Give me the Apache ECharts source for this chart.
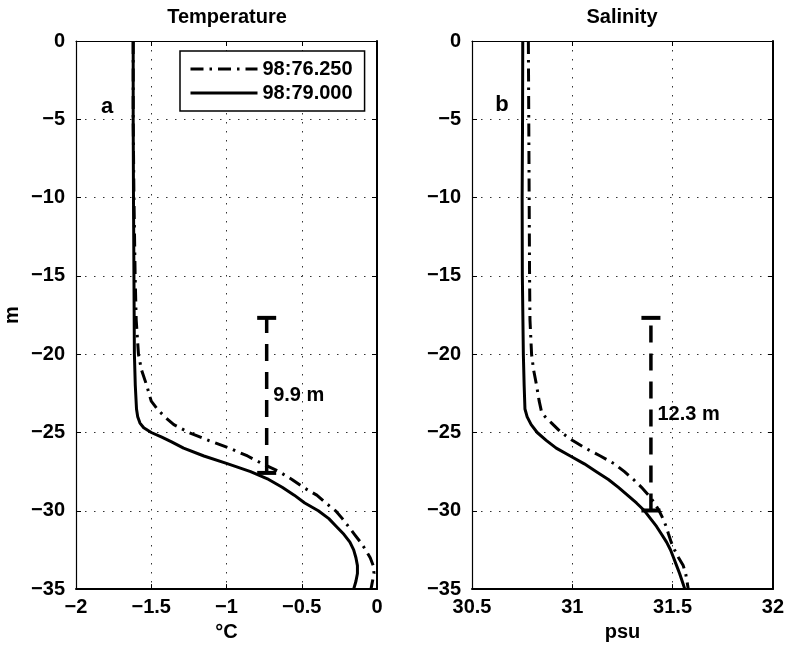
<!DOCTYPE html>
<html>
<head>
<meta charset="utf-8">
<script src="https://cdn.jsdelivr.net/npm/echarts@6/dist/echarts.min.js"></script>
<style>
html,body{margin:0;padding:0;background:#fff;}
#chart{width:787px;height:647px;}
</style>
</head>
<body>
<div id="chart"></div>
<script>
// ---------------- data ----------------
const seriesNames = ['98:76.250', '98:79.000'];
const panelTitles = ['Temperature', 'Salinity'];
const panelLetters = ['a', 'b'];
const xUnits = ['\u00B0C', 'psu'];
const yUnit = 'm';

const tempTicks = [-2, -1.5, -1, -0.5, 0];
const salTicks = [30.5, 31, 31.5, 32];
const depthTicks = [0, -5, -10, -15, -20, -25, -30, -35];

// Temperature, station 98:76.250 (dash-dot)
const t76Depth = [0, -5, -10, -15, -17.8, -20, -21, -22, -23, -23.5, -24, -24.5, -25, -25.5, -26, -26.5, -27, -27.5, -28, -28.5, -29, -29.5, -30, -30.5, -31, -31.5, -32, -32.5, -33, -33.5, -34, -34.5, -35];
const t76Temp  = [-1.62, -1.62, -1.615, -1.607, -1.60, -1.585, -1.565, -1.53, -1.50, -1.46, -1.41, -1.35, -1.25, -1.12, -0.98, -0.86, -0.76, -0.65, -0.565, -0.49, -0.40, -0.34, -0.275, -0.23, -0.19, -0.15, -0.11, -0.075, -0.045, -0.025, -0.02, -0.03, -0.04];

// Temperature, station 98:79.000 (solid)
const t79Depth = [0, -5, -10, -15, -20, -22, -23.5, -24, -24.4, -24.7, -25, -25.3, -25.6, -26, -26.5, -27, -27.5, -28, -28.5, -29, -29.5, -30, -30.5, -31, -31.5, -32, -32.5, -33, -33.5, -34, -34.5, -35];
const t79Temp  = [-1.62, -1.62, -1.618, -1.615, -1.612, -1.606, -1.598, -1.59, -1.575, -1.55, -1.50, -1.43, -1.365, -1.285, -1.15, -0.99, -0.84, -0.72, -0.63, -0.55, -0.48, -0.39, -0.32, -0.27, -0.22, -0.18, -0.155, -0.14, -0.13, -0.13, -0.14, -0.155];

// Salinity, station 98:76.250 (dash-dot)
const s76Depth = [0, -5, -10, -15, -17.8, -20, -21, -22, -23, -23.7, -24, -24.4, -25, -25.5, -26, -26.5, -27, -27.5, -28, -28.5, -29, -29.5, -30, -30.5, -31, -31.5, -32, -32.5, -33, -33.5, -34, -34.5, -35];
const s76Sal   = [30.781, 30.783, 30.785, 30.787, 30.789, 30.797, 30.807, 30.822, 30.835, 30.847, 30.865, 30.897, 30.945, 31.0, 31.065, 31.14, 31.21, 31.26, 31.305, 31.345, 31.38, 31.41, 31.433, 31.452, 31.468, 31.48, 31.493, 31.51, 31.53, 31.553, 31.565, 31.572, 31.578];

// Salinity, station 98:79.000 (solid)
const s79Depth = [0, -5, -10, -15, -20, -22, -23.5, -24, -24.5, -25, -25.5, -26, -26.5, -27, -27.5, -28, -28.5, -29, -29.5, -30, -30.5, -31, -31.5, -32, -32.5, -33, -33.5, -34, -34.5, -35];
const s79Sal   = [30.753, 30.752, 30.75, 30.751, 30.756, 30.76, 30.764, 30.775, 30.795, 30.825, 30.87, 30.92, 30.99, 31.06, 31.12, 31.18, 31.23, 31.275, 31.32, 31.36, 31.39, 31.42, 31.445, 31.47, 31.49, 31.505, 31.52, 31.535, 31.548, 31.561];

// mixed-layer deepening markers
const markerTop = -17.68;
const tempMarkerX = -0.733;
const tempMarkerLen = 9.9;
const salMarkerX = 31.392;
const salMarkerLen = 12.3;

// ---------------- chart ----------------
const FONT = '"Liberation Sans", Arial, Helvetica, sans-serif';
const pair = (xs, ys) => xs.map((x, i) => [x, ys[i]]);
const fmtNum = v => (v < 0 ? '\u2212' + Math.abs(v) : String(v));

const gridBoxes = [
  {left: 76, top: 41, width: 301, height: 549},
  {left: 472, top: 41, width: 301, height: 549}
];
const ranges = [
  {min: tempTicks[0], max: tempTicks[tempTicks.length - 1], interval: 0.5},
  {min: salTicks[0], max: salTicks[salTicks.length - 1], interval: 0.5}
];

const xAxes = [], yAxes = [];
[0, 1].forEach(g => {
  xAxes.push({
    type: 'value', gridIndex: g, position: 'bottom',
    min: ranges[g].min, max: ranges[g].max, interval: ranges[g].interval,
    name: xUnits[g], nameLocation: 'middle', nameGap: 30,
    nameTextStyle: {fontFamily: FONT, fontWeight: 'bold', fontSize: 20, color: '#000'},
    axisLine: {show: true, onZero: false, lineStyle: {color: '#000', width: 2}},
    axisTick: {show: true, inside: true, length: 5, lineStyle: {color: '#000', width: 1}},
    axisLabel: {show: true, margin: 8, formatter: fmtNum, fontFamily: FONT, fontWeight: 'bold', fontSize: 20, color: '#000'},
    splitLine: {show: true, lineStyle: {color: '#333', width: 1, type: [1.5, 7.5]}}
  });
  xAxes.push({
    type: 'value', gridIndex: g, position: 'top',
    min: ranges[g].min, max: ranges[g].max, interval: ranges[g].interval,
    axisLine: {show: true, onZero: false, lineStyle: {color: '#000', width: 1.2}},
    axisTick: {show: true, inside: true, length: 5, lineStyle: {color: '#000', width: 1}},
    axisLabel: {show: false}, splitLine: {show: false}
  });
  yAxes.push({
    type: 'value', gridIndex: g, position: 'left',
    min: -35, max: 0, interval: 5,
    name: g === 0 ? yUnit : '', nameLocation: 'middle', nameGap: 54, nameRotate: 90,
    nameTextStyle: {fontFamily: FONT, fontWeight: 'bold', fontSize: 20, color: '#000'},
    axisLine: {show: true, onZero: false, lineStyle: {color: '#000', width: 1.2}},
    axisTick: {show: true, inside: true, length: 5, lineStyle: {color: '#000', width: 1}},
    axisLabel: {show: true, margin: 11, formatter: fmtNum, fontFamily: FONT, fontWeight: 'bold', fontSize: 20, color: '#000'},
    splitLine: {show: true, lineStyle: {color: '#333', width: 1, type: [1.5, 7.5]}}
  });
  yAxes.push({
    type: 'value', gridIndex: g, position: 'right',
    min: -35, max: 0, interval: 5,
    axisLine: {show: true, onZero: false, lineStyle: {color: '#000', width: 2}},
    axisTick: {show: true, inside: true, length: 5, lineStyle: {color: '#000', width: 1}},
    axisLabel: {show: false}, splitLine: {show: false}
  });
});

const DASHDOT = [13, 6, 2.5, 6];
const profile = (name, xi, yi, data, dash) => ({
  type: 'line', name: name, xAxisIndex: xi, yAxisIndex: yi, data: data,
  showSymbol: false, symbol: 'none', smooth: false, silent: true,
  lineStyle: {color: '#000', width: 3, type: dash ? DASHDOT : 'solid', cap: 'butt', join: 'round'},
  itemStyle: {color: '#000'}, z: 3
});

const markerSeries = (xi, yi, x, len) => {
  const bottom = markerTop - len;
  return [
    {
      type: 'line', xAxisIndex: xi, yAxisIndex: yi, silent: true,
      data: [[x, bottom], [x, markerTop]], symbol: 'none',
      lineStyle: {color: '#000', width: 3.5, type: [17, 11]}, z: 4
    },
    {
      type: 'scatter', xAxisIndex: xi, yAxisIndex: yi, silent: true,
      data: [[x, markerTop], [x, bottom]], symbol: 'rect', symbolSize: [19, 4],
      itemStyle: {color: '#000', opacity: 1}, z: 4
    },
    {
      type: 'scatter', xAxisIndex: xi, yAxisIndex: yi, silent: true,
      data: [[x, markerTop - len / 2]], symbol: 'circle', symbolSize: 1,
      itemStyle: {color: 'rgba(0,0,0,0)', opacity: 1},
      label: {show: true, position: 'right', distance: 6, formatter: len.toFixed(1) + ' m',
        fontFamily: FONT, fontWeight: 'bold', fontSize: 20, color: '#000'}, z: 5
    }
  ];
};

const option = {
  animation: false,
  backgroundColor: '#fff',
  grid: gridBoxes.map(b => Object.assign({show: false, containLabel: false}, b)),
  xAxis: xAxes,
  yAxis: yAxes,
  legend: {
    data: seriesNames, orient: 'vertical', left: 180, top: 51,
    backgroundColor: '#fff', borderColor: '#000', borderWidth: 1.5,
    padding: [8, 12, 8, 9], itemWidth: 67, itemHeight: 14, itemGap: 4,
    selectedMode: false,
    itemStyle: {opacity: 0},
    lineStyle: {width: 3, color: '#000'},
    textStyle: {fontFamily: FONT, fontWeight: 'bold', fontSize: 20, color: '#000'}
  },
  graphic: [
    {type: 'text', x: 227, y: 17.5, style: {text: panelTitles[0], align: 'center', verticalAlign: 'middle', font: 'bold 20px ' + FONT, fill: '#000'}},
    {type: 'text', x: 622, y: 17.5, style: {text: panelTitles[1], align: 'center', verticalAlign: 'middle', font: 'bold 20px ' + FONT, fill: '#000'}},
    {type: 'text', x: 107, y: 107, style: {text: panelLetters[0], align: 'center', verticalAlign: 'middle', font: 'bold 22px ' + FONT, fill: '#000'}},
    {type: 'text', x: 502, y: 105, style: {text: panelLetters[1], align: 'center', verticalAlign: 'middle', font: 'bold 22px ' + FONT, fill: '#000'}}
  ],
  series: [
    profile(seriesNames[0], 0, 0, pair(t76Temp, t76Depth), true),
    profile(seriesNames[1], 0, 0, pair(t79Temp, t79Depth), false),
    profile(seriesNames[0], 2, 2, pair(s76Sal, s76Depth), true),
    profile(seriesNames[1], 2, 2, pair(s79Sal, s79Depth), false),
    ...markerSeries(0, 0, tempMarkerX, tempMarkerLen),
    ...markerSeries(2, 2, salMarkerX, salMarkerLen)
  ]
};

const chart = echarts.init(document.getElementById('chart'), null, {renderer: 'canvas'});
chart.setOption(option);
</script>
</body>
</html>
